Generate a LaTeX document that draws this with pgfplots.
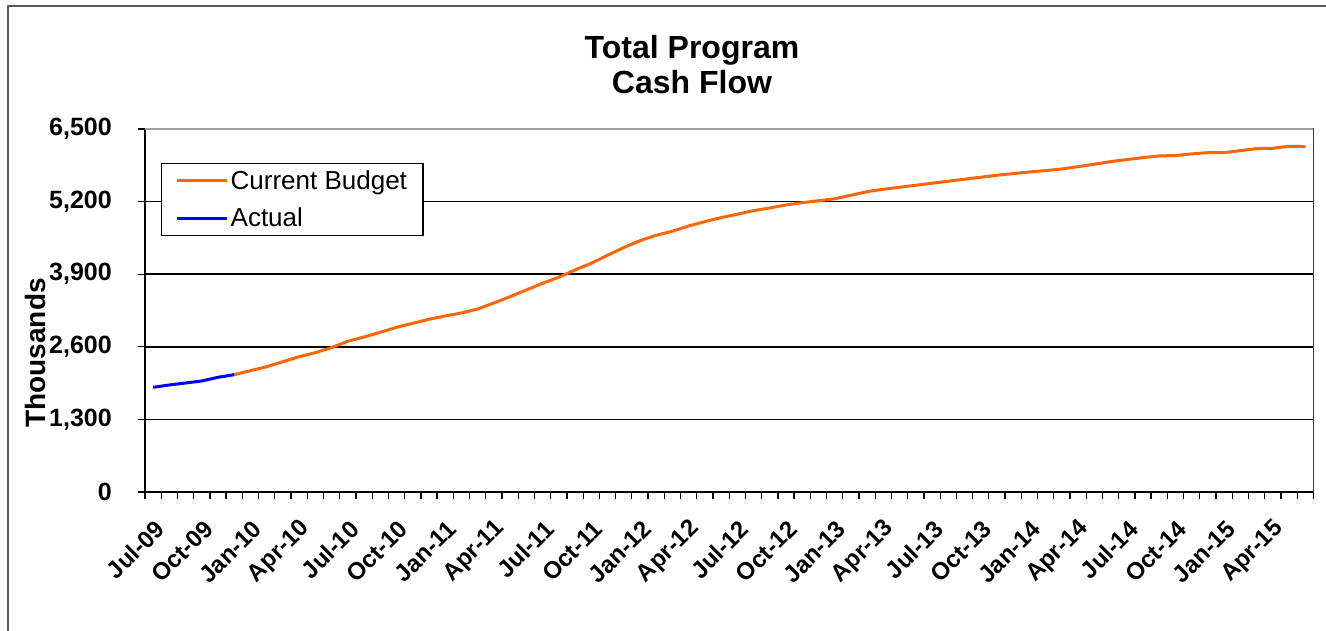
\documentclass[border=0pt]{standalone}
\usepackage{fontspec}
\setmainfont{Liberation Sans}
\usepackage{pgfplots}
\usepackage{pgfplotstable}
\pgfplotsset{compat=1.18}
\definecolor{budget}{HTML}{FF6600}
\definecolor{actual}{HTML}{0000FF}
\definecolor{framegray}{HTML}{5A5A5A}
\definecolor{plotgray}{HTML}{A0A0A0}

\pgfplotstableread{
idx value
5 2101
6 2173
7 2244
8 2334
9 2423
10 2495
11 2585
12 2700
13 2776
14 2860
15 2949
16 3021
17 3093
18 3152
19 3206
20 3277
21 3385
22 3498
23 3618
24 3738
25 3845
26 3976
27 4096
28 4239
29 4376
30 4501
31 4597
32 4669
33 4764
34 4841
35 4913
36 4974
37 5038
38 5086
39 5140
40 5180
41 5215
42 5250
43 5314
44 5378
45 5421
46 5457
47 5493
48 5529
49 5565
50 5601
51 5636
52 5672
53 5701
54 5731
55 5755
56 5785
57 5826
58 5869
59 5916
60 5952
61 5988
62 6018
63 6024
64 6054
65 6077
66 6077
67 6113
68 6149
69 6155
70 6191
71 6185
}\budgettable

\pgfplotstableread{
idx value
0 1875
1 1916
2 1952
3 1988
4 2054
5 2101
}\actualtable

\begin{document}
\begin{tikzpicture}
\path[use as bounding box] (0pt,0pt) rectangle (1326pt,631pt);
\draw[line width=2pt, color=framegray] (8pt,-5pt) -- (8pt,625pt) -- (1330pt,625pt);
\node[anchor=base, font=\bfseries\fontsize{32}{32}\selectfont] at (692pt,572.7pt) {Total Program};
\node[anchor=base, font=\bfseries\fontsize{32}{32}\selectfont] at (692pt,537.7pt) {Cash Flow};
\begin{axis}[
  at={(145pt,139pt)}, anchor=south west,
  scale only axis, width=1168.5pt, height=363pt,
  xmin=-0.5, xmax=71.5, ymin=0, ymax=6500,
  axis line style={line width=1.5pt, black},
  tick pos=left, tick align=outside,
  xtick={0,3,...,69},
  xticklabels={Jul-09,Oct-09,Jan-10,Apr-10,Jul-10,Oct-10,Jan-11,Apr-11,Jul-11,Oct-11,Jan-12,Apr-12,Jul-12,Oct-12,Jan-13,Apr-13,Jul-13,Oct-13,Jan-14,Apr-14,Jul-14,Oct-14,Jan-15,Apr-15},
  minor xtick={-0.5,0.5,...,71.5},
  ytick={0,1300,2600,3900,5200,6500},
  minor ytick={0,1300,2600,3900,5200,6500},
  yticklabels={0,{1,300},{2,600},{3,900},{5,200},{6,500}},
  major tick length=0pt, minor tick length=7pt,
  every tick/.style={black, line width=1.3pt},
  ymajorgrids, major grid style={black, line width=1.5pt},
  /pgf/number format/assume math mode=true,
  xticklabel style={font=\bfseries\fontsize{24}{24}\selectfont, xshift=7pt, yshift=-33pt, rotate=45, anchor=east, inner sep=0pt},
  yticklabel style={font=\bfseries\fontsize{25}{25}\selectfont, anchor=east, inner sep=0pt, xshift=-33pt},
  ylabel={Thousands},
  ylabel style={at={(axis description cs:-0.0933,0.383)}, anchor=center, font=\bfseries\fontsize{28}{28}\selectfont},
  legend style={at={(axis description cs:0.0137,0.906)}, anchor=north west, draw=black, line width=1.3pt,
    font=\fontsize{26}{26}\selectfont, inner xsep=14pt, inner ysep=5pt, row sep=13pt,
    nodes={inner sep=2pt}},
  legend cell align=left,
  legend image code/.code={\draw[#1] (0pt,0pt) -- (50pt,0pt);},
]
\addplot[budget, line width=3pt] table[x=idx, y=value] {\budgettable};
\addlegendentry{Current Budget}
\addplot[actual, line width=3pt] table[x=idx, y=value] {\actualtable};
\addlegendentry{Actual}
\draw[plotgray, line width=1.6pt] (rel axis cs:0,1) -- (rel axis cs:1,1) -- (rel axis cs:1,0);
\end{axis}
\end{tikzpicture}
\end{document}
